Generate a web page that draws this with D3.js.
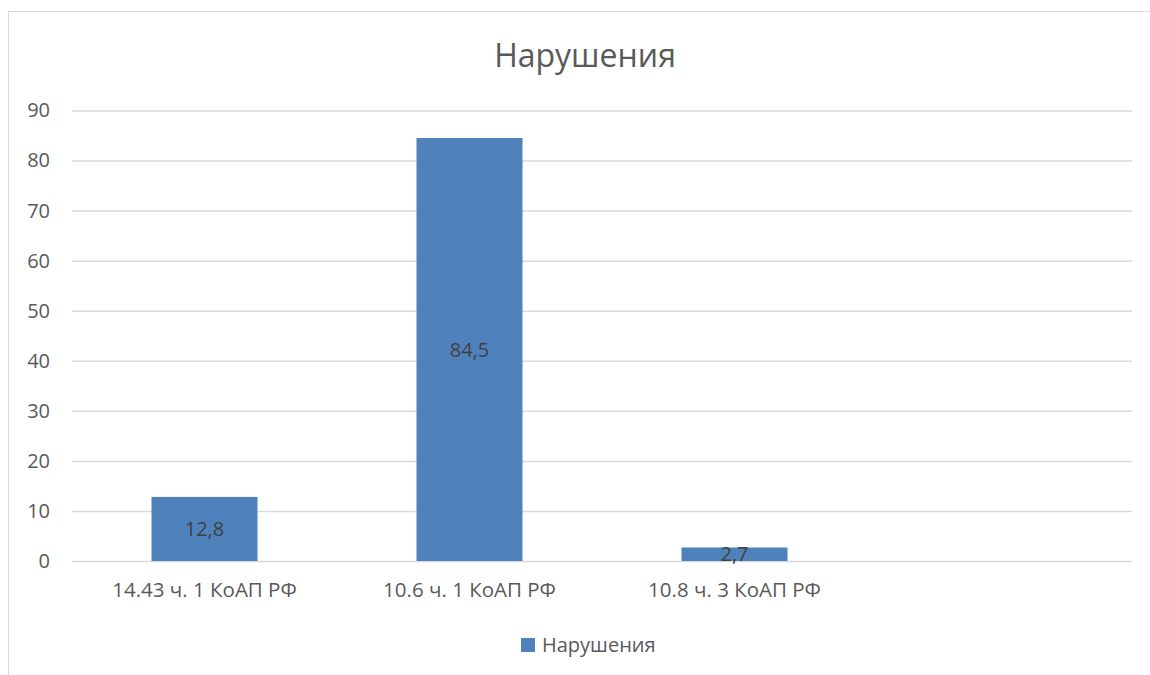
<!DOCTYPE html>
<html>
<head>
<meta charset="utf-8">
<script src="https://cdn.jsdelivr.net/npm/d3@7"></script>
<style>
  html, body { margin: 0; padding: 0; background: #fff; }
  svg { display: block; font-family: "Open Sans", sans-serif; }
</style>
</head>
<body>
<svg id="chart" width="1150" height="675"></svg>
<script>
const chartTitle = "Нарушения";
const seriesName = "Нарушения";
const categories = ["14.43 ч. 1 КоАП РФ", "10.6 ч. 1 КоАП РФ", "10.8 ч. 3 КоАП РФ", ""];
const values = [12.8, 84.5, 2.7, null];
const valueLabels = ["12,8", "84,5", "2,7", null];
const yTicks = [0, 10, 20, 30, 40, 50, 60, 70, 80, 90];

const FONT = "'Open Sans', sans-serif";
const svg = d3.select("#chart");
const plot = { left: 72, right: 1132, top: 110.5, bottom: 561 };

// outer border
svg.append("rect")
  .attr("x", 8.5).attr("y", 11.5)
  .attr("width", 1160).attr("height", 700)
  .attr("fill", "#fff").attr("stroke", "#d9d9d9").attr("stroke-width", 1);

const x = d3.scaleBand()
  .domain(d3.range(categories.length))
  .range([plot.left, plot.right])
  .paddingInner(0.6).paddingOuter(0.3);

const y = d3.scaleLinear().domain([0, 90]).range([plot.bottom, plot.top]);

// gridlines + y tick labels
const yAxis = d3.axisLeft(y).tickValues(yTicks)
  .tickSize(-(plot.right - plot.left)).tickPadding(22).tickFormat(d3.format("d"));
const gy = svg.append("g").attr("transform", `translate(${plot.left},0)`).call(yAxis);
gy.select(".domain").remove();
gy.selectAll(".tick line").attr("stroke", "#d9d9d9").attr("stroke-width", 1.5);
gy.selectAll(".tick text").attr("fill", "#595959").style("font-size", "20px")
  .style("font-family", FONT);

// bars
const data = categories.map((c, i) => ({ i, c, v: values[i], lab: valueLabels[i] }))
  .filter(d => d.v !== null);

svg.append("g").selectAll("rect").data(data).join("rect")
  .attr("x", d => x(d.i))
  .attr("y", d => y(d.v))
  .attr("width", x.bandwidth())
  .attr("height", d => y(0) - y(d.v))
  .attr("fill", "#4f81bd");

svg.append("g").selectAll("text").data(data).join("text")
  .attr("x", d => x(d.i) + x.bandwidth() / 2)
  .attr("y", d => (y(d.v) + y(0)) / 2)
  .attr("dy", "0.35em")
  .attr("text-anchor", "middle")
  .attr("fill", "#404040")
  .style("font-size", "20px")
  .style("font-family", FONT)
  .text(d => d.lab);

// x axis labels
const xAxis = d3.axisBottom(x).tickSize(0).tickPadding(21).tickFormat(i => categories[i]);
const gx = svg.append("g").attr("transform", `translate(0,${plot.bottom})`).call(xAxis);
gx.select(".domain").remove();
gx.selectAll(".tick text").attr("fill", "#595959").style("font-size", "20.5px")
  .style("font-family", FONT);

// title
svg.append("text")
  .attr("x", 585).attr("y", 67)
  .attr("text-anchor", "middle")
  .attr("fill", "#595959")
  .style("font-size", "32px")
  .style("font-family", FONT)
  .text(chartTitle);

// legend
const lg = svg.append("g").attr("transform", "translate(521,638)");
lg.append("rect").attr("width", 14).attr("height", 14).attr("fill", "#4f81bd");
lg.append("text").attr("x", 21).attr("y", 7).attr("dy", "0.35em")
  .attr("fill", "#595959").style("font-size", "20px").style("font-family", FONT)
  .text(seriesName);
</script>
</body>
</html>
